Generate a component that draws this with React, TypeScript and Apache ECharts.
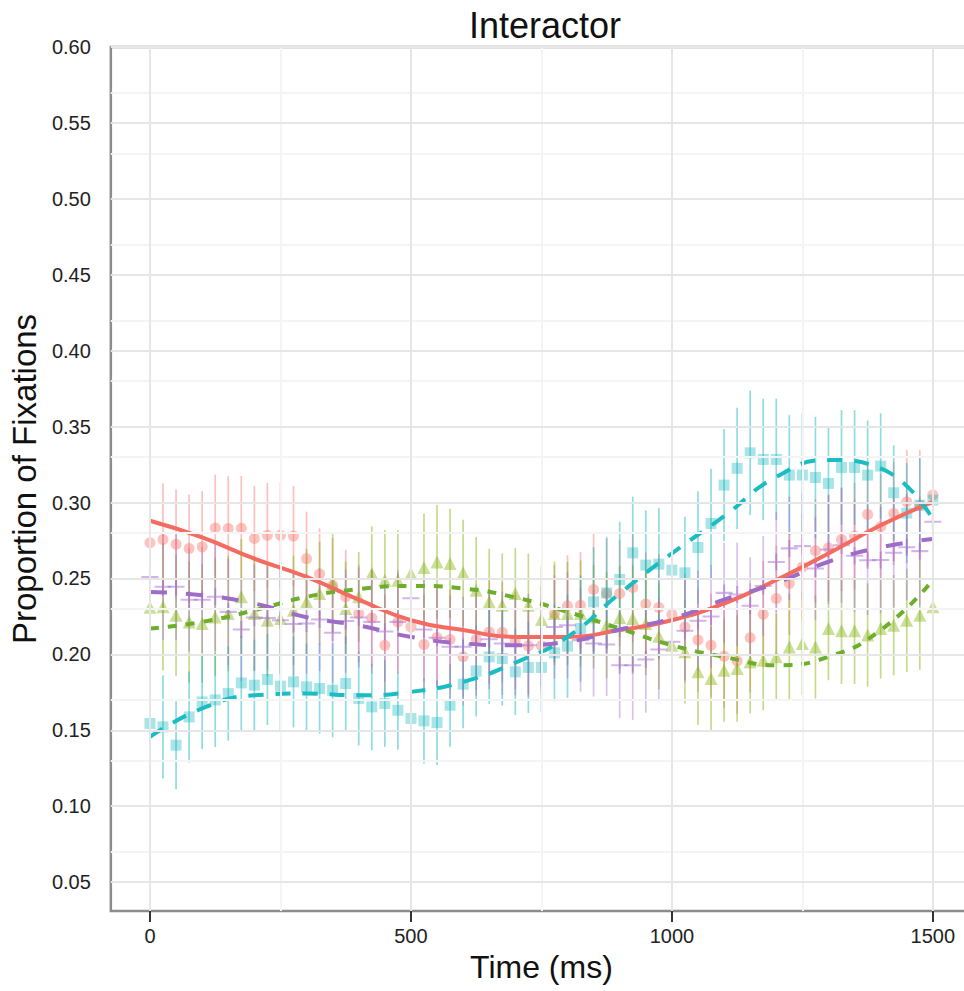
import React, { useEffect, useRef } from "react";
import * as echarts from "echarts";

// Time bins (ms) for the observed proportions
const TIME_MS = [
  0, 25, 50, 75, 100, 125, 150, 175, 200, 225, 250, 275, 300, 325, 350, 375,
  400, 425, 450, 475, 500, 525, 550, 575, 600, 625, 650, 675, 700, 725, 750,
  775, 800, 825, 850, 875, 900, 925, 950, 975, 1000, 1025, 1050, 1075, 1100,
  1125, 1150, 1175, 1200, 1225, 1250, 1275, 1300, 1325, 1350, 1375, 1400,
  1425, 1450, 1475, 1500,
];

// Sample times for the fitted curves
const FIT_TIME_MS = [0, 100, 200, 300, 400, 500, 600, 700, 800, 900, 1000, 1100, 1200, 1300, 1400, 1500];

const X_TICKS = [0, 500, 1000, 1500];
const X_MINOR = [250, 750, 1250];
const Y_TICKS = [0.05, 0.1, 0.15, 0.2, 0.25, 0.3, 0.35, 0.4, 0.45, 0.5, 0.55, 0.6];
const Y_MINOR = [0.075, 0.125, 0.175, 0.225, 0.275, 0.325, 0.375, 0.425, 0.475, 0.525, 0.575];

// Red group (circles, solid fit)
const RED_MEAN = [
  0.2735, 0.2757, 0.2726, 0.2698, 0.2708, 0.2833, 0.2829, 0.283, 0.2763, 0.2785, 0.2785, 0.278, 0.263,
  0.253, 0.2456, 0.2379, 0.2269, 0.224, 0.206, 0.2214, 0.2181, 0.2065, 0.2111, 0.2098, 0.1984, 0.2098,
  0.2148, 0.2146, 0.209, 0.2056, 0.2056, 0.2269, 0.2318, 0.2324, 0.2428, 0.2401, 0.2401, 0.2441, 0.2331,
  0.2309, 0.2263, 0.2181, 0.2094, 0.206, 0.1988, 0.1957, 0.2109, 0.2265, 0.2368, 0.2467, 0.2576, 0.2682,
  0.27, 0.2757, 0.2779, 0.2922, 0.284, 0.2928, 0.3005, 0.298, 0.3049,
];
const RED_ERR = [
  0.037, 0.037, 0.036, 0.0355, 0.0367, 0.035, 0.0345, 0.0345, 0.0345, 0.0345, 0.0345, 0.033, 0.031, 0.03,
  0.031, 0.031, 0.032, 0.032, 0.033, 0.032, 0.033, 0.033, 0.032, 0.033, 0.032, 0.033, 0.034, 0.033, 0.032,
  0.032, 0.031, 0.032, 0.0335, 0.035, 0.038, 0.036, 0.035, 0.036, 0.034, 0.035, 0.034, 0.035, 0.034, 0.034,
  0.034, 0.035, 0.036, 0.035, 0.035, 0.034, 0.035, 0.034, 0.035, 0.034, 0.035, 0.034, 0.035, 0.034, 0.034,
  0.0365, 0.034,
];
const RED_FIT = [0.288, 0.277, 0.263, 0.251, 0.236, 0.2225, 0.216, 0.2115, 0.2115, 0.216, 0.2225, 0.2335, 0.249, 0.2665, 0.285, 0.3005];

// Green group (triangles, short-dash fit)
const GREEN_MEAN = [
  0.231, 0.2313, 0.2258, 0.2214, 0.2203, 0.2247, 0.2269, 0.2379, 0.2269, 0.2225, 0.2236, 0.2291, 0.2346,
  0.2401, 0.2467, 0.2302, 0.2379, 0.2533, 0.2489, 0.2489, 0.2533, 0.2572, 0.2609, 0.2599, 0.2537, 0.2423,
  0.2346, 0.2324, 0.2401, 0.2324, 0.223, 0.227, 0.2269, 0.2269, 0.2247, 0.2192, 0.2243, 0.2236, 0.2203,
  0.212, 0.206, 0.2017, 0.1885, 0.1841, 0.1896, 0.1907, 0.1951, 0.1962, 0.1984, 0.2049, 0.2072, 0.2049,
  0.217, 0.2155, 0.2155, 0.2127, 0.217, 0.2192, 0.2225, 0.2258, 0.2313,
];
const GREEN_ERR = [
  0.041, 0.042, 0.04, 0.04, 0.039, 0.039, 0.038, 0.038, 0.038, 0.037, 0.037, 0.036, 0.035, 0.034, 0.033,
  0.031, 0.0296, 0.031, 0.033, 0.033, 0.035, 0.0356, 0.0374, 0.036, 0.035, 0.035, 0.035, 0.034, 0.03,
  0.034, 0.035, 0.034, 0.034, 0.035, 0.034, 0.035, 0.034, 0.035, 0.034, 0.035, 0.035, 0.034, 0.035, 0.034,
  0.034, 0.0351, 0.034, 0.033, 0.0286, 0.035, 0.034, 0.034, 0.034, 0.035, 0.035, 0.034, 0.033, 0.033,
  0.034, 0.036, 0.035,
];
const GREEN_FIT = [0.217, 0.2214, 0.229, 0.2379, 0.243, 0.2451, 0.2434, 0.2375, 0.228, 0.217, 0.206, 0.1984, 0.1929, 0.1984, 0.2159, 0.2489];

// Cyan group (squares, medium-dash fit)
const CYAN_MEAN = [
  0.1545, 0.1523, 0.1402, 0.1588, 0.1687, 0.17, 0.1742, 0.1812, 0.1797, 0.1835, 0.1791, 0.1819, 0.1786,
  0.1775, 0.1764, 0.1808, 0.171, 0.1654, 0.1677, 0.1632, 0.1578, 0.1562, 0.1551, 0.1665, 0.1804, 0.1891,
  0.1984, 0.1973, 0.1885, 0.1914, 0.1914, 0.201, 0.2054, 0.217, 0.2346, 0.2405, 0.2493, 0.2669, 0.2588,
  0.2594, 0.2555, 0.2537, 0.2704, 0.2862, 0.3115, 0.3225, 0.3327, 0.3284, 0.3284, 0.3181, 0.3181, 0.3165,
  0.3126, 0.3231, 0.3231, 0.3181, 0.324, 0.3064, 0.293, 0.2983, 0.3016,
];
const CYAN_ERR = [
  0.035, 0.034, 0.029, 0.03, 0.031, 0.031, 0.031, 0.031, 0.03, 0.03, 0.029, 0.03, 0.0286, 0.0296, 0.031,
  0.031, 0.031, 0.0285, 0.0286, 0.026, 0.0275, 0.028, 0.028, 0.0274, 0.029, 0.03, 0.031, 0.031, 0.0285,
  0.03, 0.0293, 0.032, 0.034, 0.035, 0.036, 0.037, 0.038, 0.037, 0.036, 0.037, 0.036, 0.037, 0.037, 0.036,
  0.037, 0.04, 0.041, 0.04, 0.04, 0.0395, 0.0405, 0.04, 0.0374, 0.0378, 0.0378, 0.036, 0.0347, 0.0314,
  0.033, 0.031, 0.03,
];
const CYAN_FIT = [0.1457, 0.1644, 0.1731, 0.1742, 0.1731, 0.1753, 0.1819, 0.1945, 0.2115, 0.2401, 0.2665, 0.291, 0.3169, 0.328, 0.3225, 0.289];

// Purple group (plus marks, long-dash fit)
const PURPLE_MEAN = [
  0.251, 0.2445, 0.2445, 0.236, 0.236, 0.238, 0.228, 0.2164, 0.2243, 0.224, 0.2225, 0.22, 0.2203, 0.223,
  0.2142, 0.222, 0.2243, 0.2214, 0.215, 0.2214, 0.237, 0.2164, 0.211, 0.205, 0.205, 0.2065, 0.21, 0.2072,
  0.206, 0.206, 0.212, 0.2181, 0.2192, 0.2094, 0.2072, 0.2065, 0.1929, 0.1929, 0.1966, 0.2032, 0.2083,
  0.2155, 0.2221, 0.225, 0.2405, 0.2395, 0.232, 0.245, 0.2609, 0.2698, 0.2713, 0.2566, 0.2691, 0.2719,
  0.265, 0.262, 0.2621, 0.2669, 0.2706, 0.268, 0.2873,
];
const PURPLE_ERR = [
  0.036, 0.035, 0.035, 0.034, 0.035, 0.036, 0.035, 0.034, 0.035, 0.034, 0.035, 0.034, 0.033, 0.034, 0.033,
  0.034, 0.033, 0.034, 0.033, 0.034, 0.033, 0.034, 0.033, 0.034, 0.033, 0.034, 0.033, 0.034, 0.033, 0.034,
  0.033, 0.034, 0.035, 0.034, 0.035, 0.034, 0.035, 0.036, 0.035, 0.034, 0.035, 0.034, 0.033, 0.034, 0.033,
  0.034, 0.032, 0.033, 0.033, 0.034, 0.035, 0.034, 0.036, 0.038, 0.037, 0.036, 0.035, 0.036, 0.035, 0.036,
  0.034,
];
const PURPLE_FIT = [0.241, 0.239, 0.2335, 0.2245, 0.219, 0.2115, 0.2072, 0.206, 0.2083, 0.2164, 0.2236, 0.236, 0.247, 0.261, 0.2705, 0.276];

const FONT = "'Liberation Sans', Arial, Helvetica, sans-serif";
const PLUS = "path://M0,4.4H10V5.6H0Z M4.4,0H5.6V10H4.4Z";

type Group = {
  mean: number[];
  err: number[];
  fit: number[];
  point: string;
  bar: string;
  line: string;
  symbol: string;
  size: number;
  dash: "solid" | number[];
};

const GROUPS: Group[] = [
  { mean: RED_MEAN, err: RED_ERR, fit: RED_FIT, point: "rgba(248,118,109,0.55)", bar: "rgba(248,118,109,0.45)", line: "#F36B61", symbol: "circle", size: 11, dash: "solid" },
  { mean: GREEN_MEAN, err: GREEN_ERR, fit: GREEN_FIT, point: "rgba(124,174,0,0.5)", bar: "rgba(124,174,0,0.45)", line: "#6DAE2C", symbol: "triangle", size: 13, dash: [9, 9] },
  { mean: CYAN_MEAN, err: CYAN_ERR, fit: CYAN_FIT, point: "rgba(0,178,184,0.42)", bar: "rgba(0,178,190,0.45)", line: "#1CBDC2", symbol: "rect", size: 11, dash: [15, 12] },
  { mean: PURPLE_MEAN, err: PURPLE_ERR, fit: PURPLE_FIT, point: "rgba(160,100,210,0.6)", bar: "rgba(160,100,210,0.4)", line: "#9E6CC6", symbol: PLUS, size: 17, dash: [17, 19] },
];

export default function App() {
  const ref = useRef<HTMLDivElement>(null);

  useEffect(() => {
    if (!ref.current) return;
    const chart = echarts.init(ref.current, undefined, { renderer: "svg" });

    const series: any[] = [];

    // grid lines drawn beneath everything
    series.push({
      type: "line",
      data: [[0, 0.3]],
      showSymbol: false,
      symbol: "none",
      lineStyle: { opacity: 0 },
      silent: true,
      z: 0,
      markLine: {
        silent: true,
        symbol: "none",
        label: { show: false },
        animation: false,
        data: [
          ...X_MINOR.map((v) => ({ xAxis: v, lineStyle: { color: "#f4f4f4", width: 2, type: "solid" } })),
          ...Y_MINOR.map((v) => ({ yAxis: v, lineStyle: { color: "#f4f4f4", width: 2, type: "solid" } })),
          ...X_TICKS.map((v) => ({ xAxis: v, lineStyle: { color: "#e6e6e6", width: 2, type: "solid" } })),
          ...Y_TICKS.map((v) => ({ yAxis: v, lineStyle: { color: "#e6e6e6", width: 2, type: "solid" } })),
        ],
      },
    });

    GROUPS.forEach((g) => {
      series.push({
        type: "custom",
        silent: true,
        z: 1,
        data: TIME_MS.map((t, i) => [t, g.mean[i] - g.err[i], g.mean[i] + g.err[i]]),
        encode: { x: 0, y: [1, 2] },
        renderItem: (_params: any, api: any) => {
          const x = api.value(0);
          const a = api.coord([x, api.value(1)]);
          const b = api.coord([x, api.value(2)]);
          return {
            type: "line",
            shape: { x1: a[0], y1: a[1], x2: b[0], y2: b[1] },
            style: { stroke: g.bar, lineWidth: 1.7 },
          };
        },
      });
    });

    GROUPS.forEach((g) => {
      series.push({
        type: "scatter",
        silent: true,
        z: 2,
        symbol: g.symbol,
        symbolSize: g.size,
        itemStyle: { color: g.point },
        data: TIME_MS.map((t, i) => [t, g.mean[i]]),
      });
    });

    GROUPS.forEach((g) => {
      series.push({
        type: "line",
        silent: true,
        z: 3,
        smooth: 0.5,
        showSymbol: false,
        symbol: "none",
        lineStyle: { color: g.line, width: 4, type: g.dash, cap: "butt" },
        data: FIT_TIME_MS.map((t, i) => [t, g.fit[i]]),
      });
    });

    chart.setOption({
      animation: false,
      backgroundColor: "#ffffff",
      textStyle: { fontFamily: FONT },
      title: {
        text: "Interactor",
        left: 540,
        top: 2,
        textAlign: "center",
        textStyle: { fontFamily: FONT, fontSize: 36, fontWeight: "normal", color: "#111" },
      },
      grid: {
        left: 108,
        top: 47,
        right: 28,
        bottom: 80,
        show: true,
        borderColor: "#8c8c8c",
        borderWidth: 2.5,
        backgroundColor: "transparent",
      },
      xAxis: {
        type: "value",
        min: -75,
        max: 1575,
        name: "Time (ms)",
        nameLocation: "middle",
        nameGap: 37,
        nameTextStyle: { fontFamily: FONT, fontSize: 32, color: "#111" },
        axisLine: { show: false },
        splitLine: { show: false },
        axisTick: { show: true, length: 11, inside: false, customValues: X_TICKS, lineStyle: { color: "#333", width: 2 } },
        axisLabel: {
          customValues: X_TICKS,
          margin: 15,
          fontFamily: FONT,
          fontSize: 20,
          color: "#222",
          formatter: (v: number) => String(v),
        },
      },
      yAxis: {
        type: "value",
        min: 0.031,
        max: 0.6,
        name: "Proportion of Fixations",
        nameLocation: "middle",
        nameGap: 63,
        nameRotate: 90,
        nameTextStyle: { fontFamily: FONT, fontSize: 33, color: "#111" },
        axisLine: { show: false },
        splitLine: { show: false },
        axisTick: { show: true, length: 11, inside: false, customValues: Y_TICKS, lineStyle: { color: "#333", width: 2 } },
        axisLabel: {
          customValues: Y_TICKS,
          margin: 20,
          fontFamily: FONT,
          fontSize: 20,
          color: "#222",
          formatter: (v: number) => v.toFixed(2),
        },
      },
      series,
    });

    return () => chart.dispose();
  }, []);

  return (
    <div style={{ position: "absolute", left: 0, top: 0, width: 964, height: 991, overflow: "hidden", background: "#fff" }}>
      <div ref={ref} style={{ width: 1000, height: 991 }} />
    </div>
  );
}
